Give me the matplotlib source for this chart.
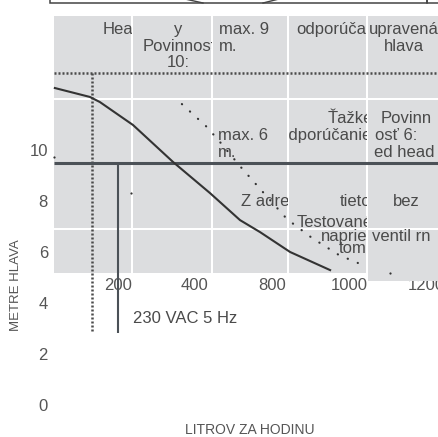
import matplotlib
matplotlib.use("Agg")
import matplotlib.pyplot as plt
from matplotlib.patches import Rectangle
from matplotlib.transforms import Bbox, blended_transform_factory, offset_copy
from matplotlib import font_manager

plt.rcParams['font.family'] = ['Liberation Sans', 'DejaVu Sans']
_names = {f.name for f in font_manager.fontManager.ttflist}
NARROW = 'Liberation Sans Narrow' in _names

# ---------------- data ----------------
y_ticks = [0, 2, 4, 6, 8, 10]
x_tick_pos = [200, 400, 600, 800, 1000]
x_tick_labels = ['200', '400', '800', '1000', '1200']

# pump curve (solid)
curve_x = [36, 127, 153, 239, 343, 439, 517, 569, 647, 751]
curve_y = [12.43, 12.08, 11.88, 10.98, 9.53, 8.31, 7.25, 6.78, 6.00, 5.29]

# sparse dotted curve
dot_x = [366, 431, 465, 519, 574, 639, 704, 774, 823]
dot_y = [11.80, 10.90, 10.31, 9.33, 8.39, 7.29, 6.55, 5.88, 5.57]

# stray points
stray_x = [34, 234, 906]
stray_y = [9.73, 8.31, 5.18]

# reference lines
max_head_y = 13.0          # dotted horizontal
max_flow_x = 132           # dotted vertical
work_head_y = 9.49         # solid horizontal
work_flow_x = 200          # solid vertical
ref_bottom_y = 2.82
line_x_start = 34
line_x_end = 1034

x_label = 'LITROV ZA HODINU'
y_label = 'METRE HLAVA'
note_text = '230 VAC 5 Hz'

# cell texts: (text, x_px, y_center_px, ha, column)
cell_texts = [
    ('Head', 103, 28, 'left', 0),
    ('y', 178, 28, 'center', 1),
    ('Povinnost', 179, 45, 'center', 1),
    ('10:', 178, 61, 'center', 1),
    ('max. 9', 219, 28, 'left', 2),
    ('m.', 219, 45, 'left', 2),
    ('max. 6', 218, 134, 'left', 2),
    ('m.', 218, 151, 'left', 2),
    ('Z adres', 241, 200, 'left', 2),
    ('odporúča', 296, 28, 'left', 3),
    ('Ťažké', 373, 117, 'right', 3),
    ('odporúčanie', 372, 134, 'right', 3),
    ('tieto', 371, 200, 'right', 3),
    ('Testované', 297, 221, 'left', 3),
    ('naprie', 367, 235, 'right', 3),
    ('tom', 367, 247, 'right', 3),
    ('upravená', 404, 28, 'center', 4),
    ('hlava', 404, 45, 'center', 4),
    ('Povinn', 381, 117, 'left', 4),
    ('osť 6:', 375, 134, 'left', 4),
    ('ed head', 374, 151, 'left', 4),
    ('bez', 406, 200, 'center', 4),
    ('ventil rn', 372, 235, 'left', 4),
]

# ---------------- layout ----------------
W, H = 439, 437
cols = [(54, 131), (133, 211), (213, 287), (289, 366), (368, 439)]
rows = [(16, 98), (100, 228), (230, 273)]
CELL = '#dcdddf'
TXT = '#4a4a4a'
TICK = '#555555'
LINE = '#4b5157'

fig = plt.figure(figsize=(W / 100, H / 100), dpi=100, facecolor='white')

# background axes in pixel units (origin top-left)
bg = fig.add_axes([0, 0, 1, 1], zorder=0)
bg.set_xlim(0, W)
bg.set_ylim(H, 0)
bg.set_axis_off()

# main data axes on top
ax = fig.add_axes([0, 0, 1, 1], zorder=1)
ax.set_xlim(-106.5, 1033.8)
ax.set_ylim(-1.255, 15.882)
ax.set_axis_off()

# tick labels (under the cells)
ytrans = offset_copy(blended_transform_factory(bg.transData, ax.transData),
                     fig=fig, y=-6, units='dots')
for v in y_ticks:
    bg.text(48, v, str(v), transform=ytrans, ha='right', va='baseline',
            fontsize=12, color=TICK, zorder=0.5)
xtrans = blended_transform_factory(ax.transData, bg.transData)
for p, lab in zip(x_tick_pos, x_tick_labels):
    bg.text(p, 290, lab, transform=xtrans, ha='center', va='baseline',
            fontsize=12, color=TICK, zorder=0.5)

# grey cells
for ci, (x0, x1) in enumerate(cols):
    for ri, (y0, y1) in enumerate(rows):
        if ci == 4 and ri == 2:
            y1 = 281
        bg.fill([x0, x1, x1, x0], [y0, y0, y1, y1], color=CELL, lw=0,
                zorder=1)

# top box fragment
bg.add_patch(Rectangle((50, -10), 377, 13, facecolor='none',
                       edgecolor='#444444', lw=1.1, zorder=2))
bg.add_patch(Rectangle((427, -10), 40, 13, facecolor='none',
                       edgecolor='#444444', lw=1.1, zorder=2))
bg.plot([185, 203], [-1, 3], color='#444444', lw=1.0, zorder=2)
bg.plot([263, 279], [3, -1], color='#444444', lw=1.0, zorder=2)

# reference lines
ax.plot([line_x_start, line_x_end], [max_head_y, max_head_y], color='#4a4a4a',
        lw=1.8, ls=(0, (0.8, 0.8)), zorder=2)
ax.plot([max_flow_x, max_flow_x], [max_head_y, ref_bottom_y], color='#4a4a4a',
        lw=1.8, ls=(0, (0.8, 0.8)), zorder=2)
ax.plot([line_x_start, line_x_end], [work_head_y, work_head_y], color=LINE,
        lw=2.2, zorder=2, solid_capstyle='butt')
ax.plot([work_flow_x, work_flow_x], [work_head_y, ref_bottom_y], color=LINE,
        lw=1.5, zorder=2, solid_capstyle='butt')

# curves
ax.plot(curve_x, curve_y, color='#333333', lw=1.5, zorder=2.2)
ax.plot(dot_x, dot_y, color='#333333', lw=1.6, ls=(0, (0.1, 4.8)),
        dash_capstyle='round', zorder=2.2)
ax.plot(stray_x, stray_y, ls='none', marker='o', ms=1.6, color='#333333',
        mec='none', zorder=2.2)

# cell texts (clipped to their column)
for s, x, y, ha, c in cell_texts:
    t = ax.text(x, y + 6, s, transform=bg.transData, ha=ha, va='baseline',
                fontsize=12, color=TXT, zorder=3, clip_on=True)
    x0, x1 = cols[c]
    t.set_clip_box(Bbox.from_extents(x0, 0, x1 + 0.5, H))

# note and axis labels
ax.text(133, 323, note_text, transform=bg.transData, ha='left', va='baseline',
        fontsize=12, color=TXT, zorder=3)
if NARROW:
    ax.text(250, 434, x_label, transform=bg.transData, ha='center',
            va='baseline', fontsize=11.5, color=TICK,
            family='Liberation Sans Narrow')
    ax.text(20, 285, y_label, transform=bg.transData, ha='center',
            va='center', rotation=90, fontsize=11.5, color=TICK,
            family='Liberation Sans Narrow')
else:
    ax.text(250, 434, x_label, transform=bg.transData, ha='center',
            va='baseline', fontsize=10, color=TICK)
    ax.text(16, 285, y_label, transform=bg.transData, ha='center',
            va='center', rotation=90, fontsize=9.5, color=TICK)

fig.savefig('out.png', dpi=100, facecolor='white')
